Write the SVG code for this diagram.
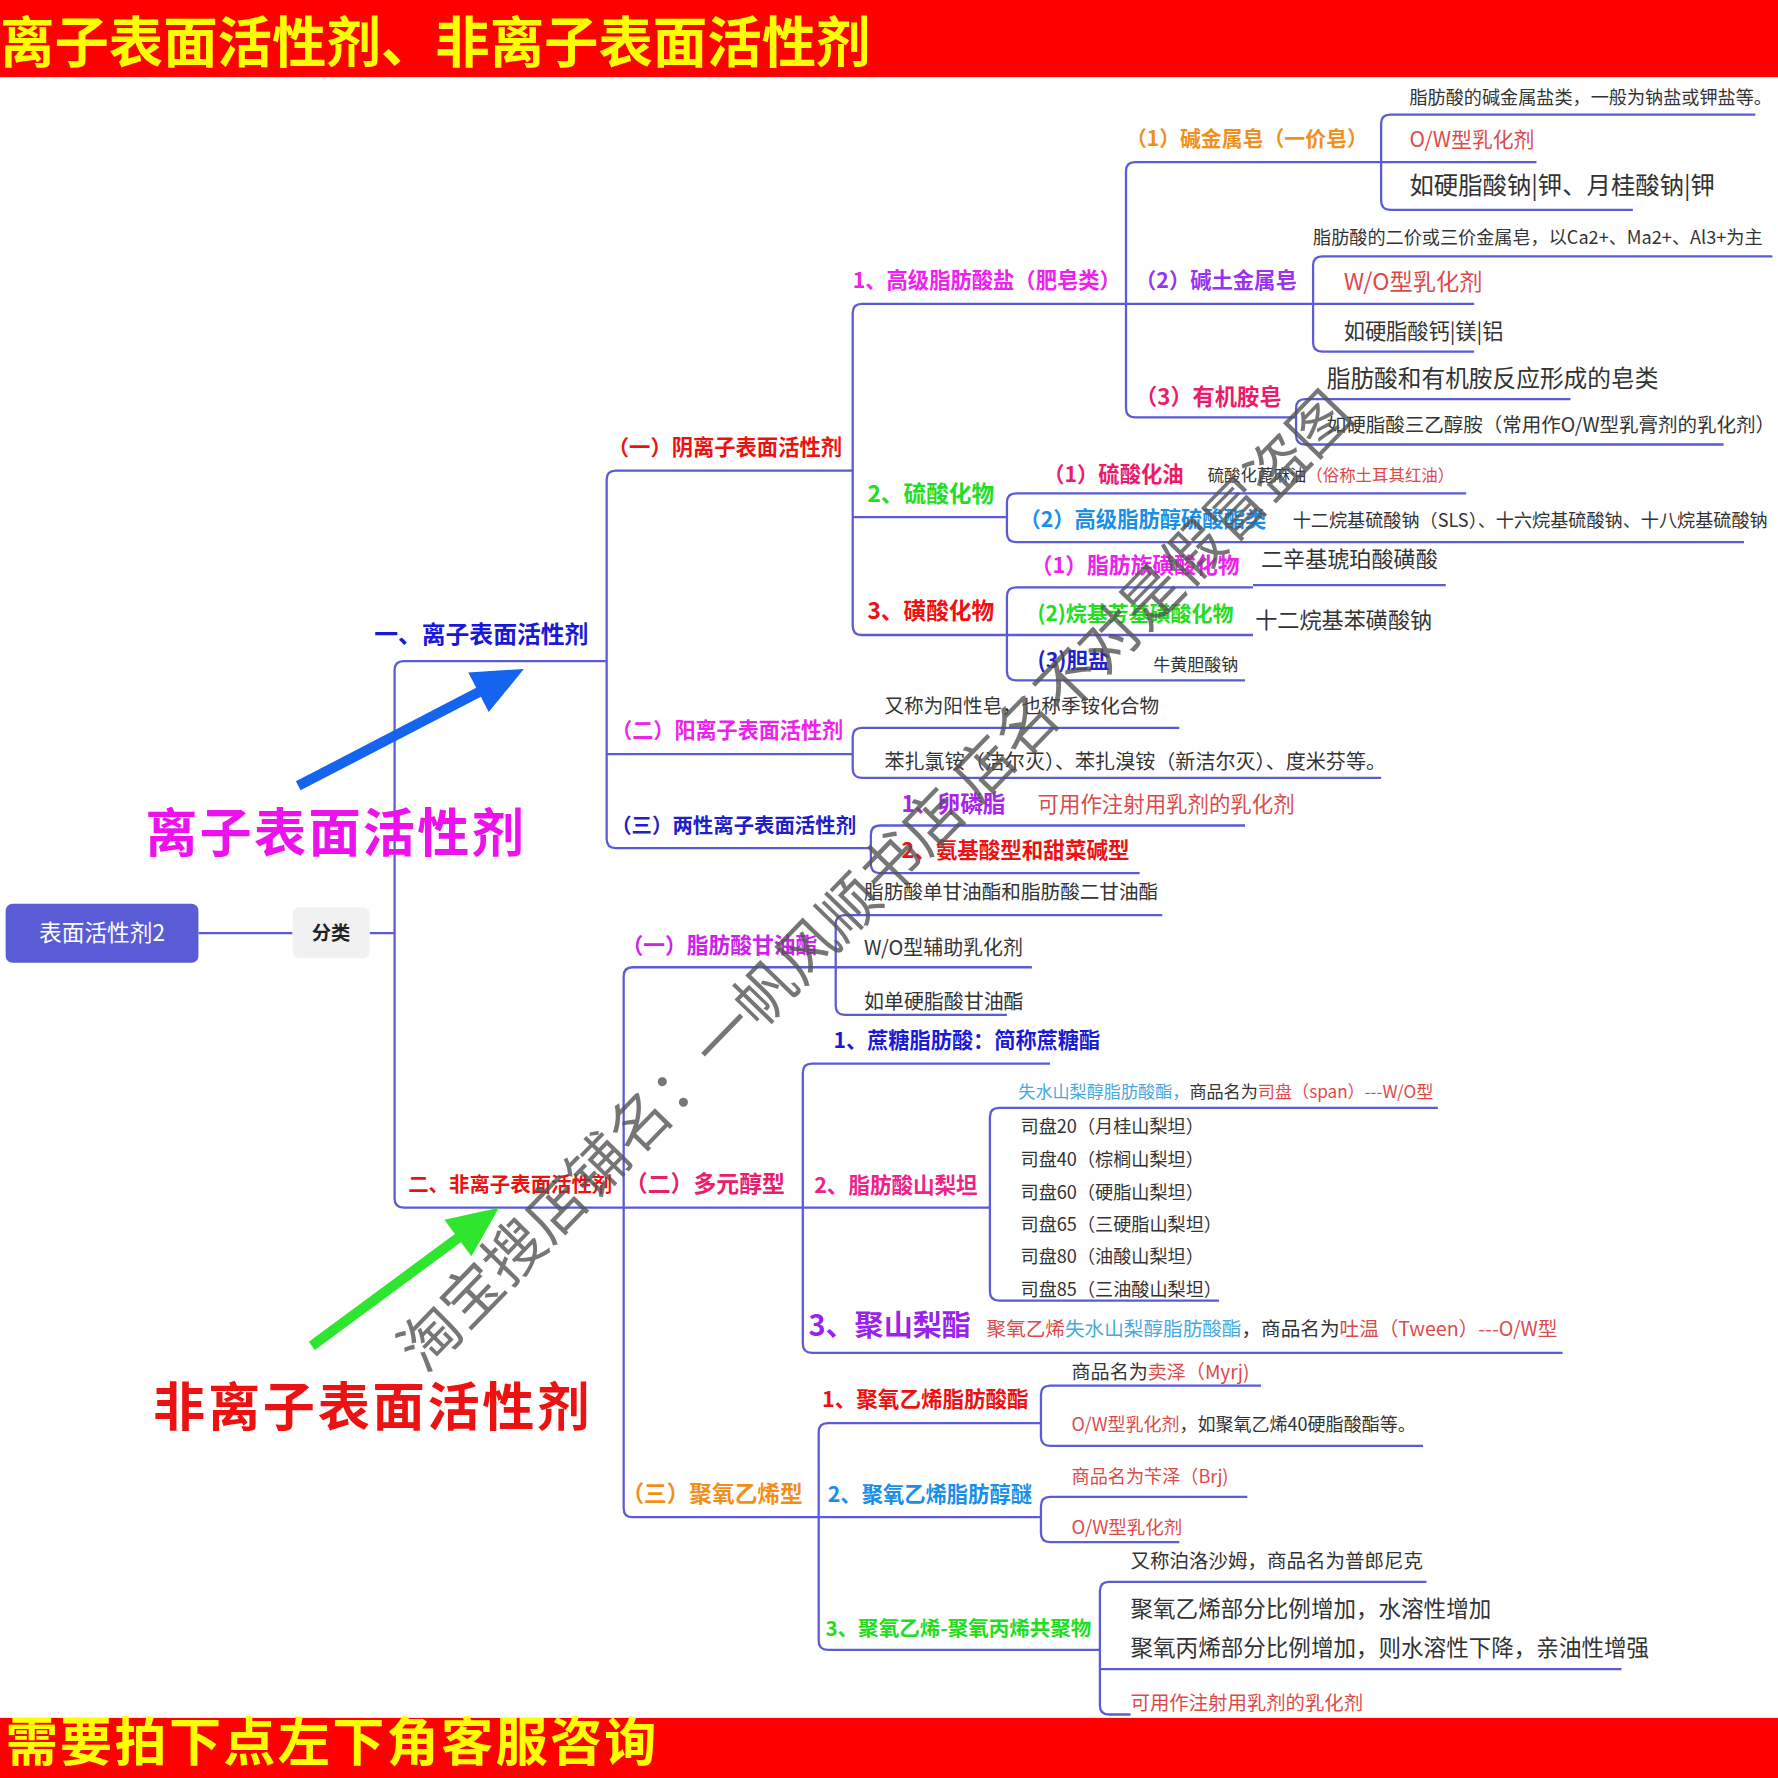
<svg xmlns="http://www.w3.org/2000/svg" width="1778" height="1778" viewBox="0 0 1778 1778">
<style>
.t{font-family:"Noto Sans CJK SC","Noto Sans",sans-serif}
.b{font-weight:700}
.ln{fill:none;stroke:#5b5bd6;stroke-width:2}
.g{fill:#333}
.rs{fill:#dd4a4a}
.lb{fill:#4aa8e0}
</style>
<rect x="0" y="0" width="1778" height="1778" fill="#ffffff"/>
<g transform="scale(1.133929)">
<g id="banner-top">
<rect x="0" y="0" width="1568" height="68" fill="#ff0000"/>
<text class="t b" x="0" y="55" font-size="48" fill="#ffff00">离子表面活性剂、非离子表面活性剂</text>
</g>
<g id="banner-bottom">
<rect x="0" y="1515" width="1568" height="53" fill="#ff0000"/>
<text class="t b" x="5" y="1553" font-size="46" letter-spacing="2" fill="#ffff00">需要拍下点左下角客服咨询</text>
</g>

<g id="connectors" class="ln">
<path d="M175 823H258M326 823H348"/>
<path d="M356 583Q348 583 348 591V1057Q348 1065 356 1065M356 583H535M356 1065H873"/>
<path d="M543 415Q535 415 535 423V740Q535 748 543 748M543 415H752M535 665H752M543 748H768"/>
<path d="M760 268Q752 268 752 276V552Q752 560 760 560M760 268H1300M752 456H888M760 560H1105"/>
<path d="M1001 143Q993 143 993 151V360Q993 368 1001 368M1001 143H1355M1001 368H1143"/>
<path d="M1226 101Q1218 101 1218 109V177Q1218 185 1226 185M1226 101H1548M1226 185H1440"/>
<path d="M1166 226Q1158 226 1158 234V302Q1158 310 1166 310M1166 226H1563M1166 310H1300"/>
<path d="M1151 352Q1143 352 1143 360V384Q1143 392 1151 392M1151 352H1385M1151 392H1520"/>
<path d="M896 435Q888 435 888 443V470Q888 478 896 478M896 435H1293M896 478H1538"/>
<path d="M896 518Q888 518 888 526V592Q888 600 896 600M896 518H1105M1105 516H1275M896 600H1098"/>
<path d="M760 642Q752 642 752 650V678Q752 686 760 686M760 642H1040M760 686H1218"/>
<path d="M776 728Q768 728 768 736V762Q768 770 776 770M776 728H1098M776 770H1005"/>
<path d="M558 853Q550 853 550 861V1330Q550 1338 558 1338M558 853H737M558 1338H918"/>
<path d="M745 807Q737 807 737 815V887Q737 895 745 895M745 807H1025M737 853H910M745 895H888"/>
<path d="M716 938Q708 938 708 946V1185Q708 1193 716 1193M716 938H926M716 1193H1378"/>
<path d="M881 977Q873 977 873 985V1139Q873 1147 881 1147M881 977H1268M881 1147H1075"/>
<path d="M730 1255Q722 1255 722 1263V1447Q722 1455 730 1455M730 1255H918M730 1455H970"/>
<path d="M926 1222Q918 1222 918 1230V1267Q918 1275 926 1275M926 1222H1112M926 1275H1255"/>
<path d="M926 1320Q918 1320 918 1328V1352Q918 1360 926 1360M926 1320H1100M926 1360H1040"/>
<path d="M978 1395Q970 1395 970 1403V1504Q970 1512 978 1512H997M978 1395H1258M970 1472H1430"/>
</g>

<g id="root">
<rect x="5" y="797" width="170" height="52" rx="6" fill="#5a5cd6"/>
<text class="t" x="90" y="830" font-size="20" fill="#ffffff" text-anchor="middle">表面活性剂2</text>
</g>
<g id="fenlei">
<rect x="258" y="800" width="68" height="45" rx="6" fill="#f1f1f1"/>
<text class="t b" x="292" y="829" font-size="17" fill="#222" text-anchor="middle">分类</text>
</g>

<g id="n1"><text class="t b" x="330" y="567" font-size="21" fill="#1818d8">一、离子表面活性剂</text></g>
<g id="n2"><text class="t b" x="360" y="1051" font-size="18" fill="#ee1111">二、非离子表面活性剂</text></g>

<g id="n11"><text class="t b" x="536" y="401" font-size="18.8" fill="#ee1111">（一）阴离子表面活性剂</text></g>
<g id="n12"><text class="t b" x="539" y="651" font-size="18.6" fill="#ee22ee">（二）阳离子表面活性剂</text></g>
<g id="n13"><text class="t b" x="539" y="735" font-size="18" fill="#2020c8">（三）两性离子表面活性剂</text></g>

<g id="n111"><text class="t b" x="752" y="254" font-size="18.8" fill="#ee22ee">1、高级脂肪酸盐（肥皂类）</text></g>
<g id="n112"><text class="t b" x="765" y="443" font-size="20" fill="#22dd22">2、硫酸化物</text></g>
<g id="n113"><text class="t b" x="765" y="546" font-size="20" fill="#ee1111">3、磺酸化物</text></g>

<g id="n1111"><text class="t b" x="993" y="129" font-size="18.4" fill="#f0901c">（1）碱金属皂（一价皂）</text></g>
<g id="n1112"><text class="t b" x="1001" y="254" font-size="18.8" fill="#9933ee">（2）碱土金属皂</text></g>
<g id="n1113"><text class="t b" x="1001" y="357" font-size="19.6" fill="#ee1a6a">（3）有机胺皂</text></g>

<g id="a1"><text class="t g" x="1243" y="92" font-size="16">脂肪酸的碱金属盐类，一般为钠盐或钾盐等。</text></g>
<g id="a2"><text class="t rs" x="1243" y="130" font-size="18.4">O/W型乳化剂</text></g>
<g id="a3"><text class="t g" x="1243" y="171" font-size="21.5">如硬脂酸钠|钾、月桂酸钠|钾</text></g>
<g id="b1"><text class="t g" x="1158" y="215" font-size="16">脂肪酸的二价或三价金属皂，以Ca2+、Ma2+、Al3+为主</text></g>
<g id="b2"><text class="t rs" x="1185" y="256" font-size="20.5">W/O型乳化剂</text></g>
<g id="b3"><text class="t g" x="1185" y="299" font-size="18.7">如硬脂酸钙|镁|铝</text></g>
<g id="c1"><text class="t g" x="1170" y="341" font-size="20.9">脂肪酸和有机胺反应形成的皂类</text></g>
<g id="c2"><text class="t g" x="1170" y="381" font-size="17.2">如硬脂酸三乙醇胺（常用作O/W型乳膏剂的乳化剂）</text></g>

<g id="d1">
<text class="t b" x="920" y="425" font-size="18.8" fill="#ee1a6a">（1）硫酸化油</text>
<text class="t g" x="1065" y="424" font-size="14.5">硫酸化蓖麻油<tspan class="rs">（俗称土耳其红油）</tspan></text>
</g>
<g id="d2">
<text class="t b" x="899" y="465" font-size="18.8" fill="#1a8fe8">（2）高级脂肪醇硫酸酯类</text>
<text class="t g" x="1140" y="465" font-size="16">十二烷基硫酸钠（SLS）、十六烷基硫酸钠、十八烷基硫酸钠</text>
</g>
<g id="e1">
<text class="t b" x="909" y="505" font-size="19.2" fill="#ee22ee">（1）脂肪族磺酸化物</text>
<text class="t g" x="1112" y="500" font-size="19.5">二辛基琥珀酸磺酸</text>
</g>
<g id="e2">
<text class="t b" x="915" y="548" font-size="18.5" fill="#22dd22">(2)烷基芳基磺酸化物</text>
<text class="t g" x="1107" y="554" font-size="19.5">十二烷基苯磺酸钠</text>
</g>
<g id="e3">
<text class="t b" x="915" y="589" font-size="19" fill="#2020c8">(3)胆盐</text>
<text class="t g" x="1017" y="592" font-size="15">牛黄胆酸钠</text>
</g>

<g id="f1"><text class="t g" x="780" y="629" font-size="17.3">又称为阳性皂，也称季铵化合物</text></g>
<g id="f2"><text class="t g" x="780" y="678" font-size="17.7">苯扎氯铵（洁尔灭）、苯扎溴铵（新洁尔灭）、度米芬等。</text></g>
<g id="g1">
<text class="t b" x="795" y="716" font-size="20" fill="#aa22ee">1、卵磷脂</text>
<text class="t rs" x="915" y="716" font-size="18.9">可用作注射用乳剂的乳化剂</text>
</g>
<g id="g2"><text class="t b" x="795" y="757" font-size="19" fill="#ee1111">2、氨基酸型和甜菜碱型</text></g>

<g id="n21"><text class="t b" x="548" y="840" font-size="19.2" fill="#cc22ee">（一）脂肪酸甘油酯</text></g>
<g id="n22"><text class="t b" x="551" y="1051" font-size="20.2" fill="#e8206a">（二）多元醇型</text></g>
<g id="n23"><text class="t b" x="548" y="1325" font-size="20" fill="#f0901c">（三）聚氧乙烯型</text></g>

<g id="h1"><text class="t g" x="762" y="793" font-size="17.3">脂肪酸单甘油酯和脂肪酸二甘油酯</text></g>
<g id="h2"><text class="t g" x="762" y="842" font-size="17.6">W/O型辅助乳化剂</text></g>
<g id="h3"><text class="t g" x="762" y="890" font-size="17.6">如单硬脂酸甘油酯</text></g>

<g id="i1"><text class="t b" x="735" y="924" font-size="18.7" fill="#1a1ad6">1、蔗糖脂肪酸：简称蔗糖酯</text></g>
<g id="i2"><text class="t b" x="718" y="1052" font-size="19" fill="#ee2288">2、脂肪酸山梨坦</text></g>
<g id="i3">
<text class="t b" x="713" y="1178" font-size="25.6" fill="#9922ee">3、聚山梨酯</text>
<text class="t" x="870" y="1178" font-size="17.3"><tspan class="rs">聚氧乙烯</tspan><tspan class="lb">失水山梨醇脂肪酸酯</tspan><tspan class="g">，商品名为</tspan><tspan class="rs">吐温（Tween）---O/W型</tspan></text>
</g>
<g id="j1"><text class="t" x="898" y="968" font-size="15.1"><tspan class="lb">失水山梨醇脂肪酸酯，</tspan><tspan class="g">商品名为</tspan><tspan class="rs">司盘（span）---W/O型</tspan></text></g>
<g id="j2">
<text class="t g" x="900" font-size="16">
<tspan x="900" y="999">司盘20（月桂山梨坦）</tspan>
<tspan x="900" y="1028">司盘40（棕榈山梨坦）</tspan>
<tspan x="900" y="1057">司盘60（硬脂山梨坦）</tspan>
<tspan x="900" y="1086">司盘65（三硬脂山梨坦）</tspan>
<tspan x="900" y="1114">司盘80（油酸山梨坦）</tspan>
<tspan x="900" y="1143">司盘85（三油酸山梨坦）</tspan>
</text>
</g>

<g id="k1"><text class="t b" x="725" y="1241" font-size="19" fill="#ee1111">1、聚氧乙烯脂肪酸酯</text></g>
<g id="k2"><text class="t b" x="730" y="1325" font-size="18.8" fill="#1a8fe8">2、聚氧乙烯脂肪醇醚</text></g>
<g id="k3"><text class="t b" x="728" y="1443" font-size="18.1" fill="#22dd22">3、聚氧乙烯-聚氧丙烯共聚物</text></g>
<g id="l1"><text class="t" x="945" y="1216" font-size="16.8"><tspan class="g">商品名为</tspan><tspan class="rs">卖泽（Myrj)</tspan></text></g>
<g id="l2"><text class="t" x="945" y="1262" font-size="15.9"><tspan class="rs">O/W型乳化剂</tspan><tspan class="g">，如聚氧乙烯40硬脂酸酯等。</tspan></text></g>
<g id="m1"><text class="t rs" x="945" y="1308" font-size="16">商品名为苄泽（Brj)</text></g>
<g id="m2"><text class="t rs" x="945" y="1353" font-size="16.3">O/W型乳化剂</text></g>
<g id="o1"><text class="t g" x="997" y="1383" font-size="17.2">又称泊洛沙姆，商品名为普郎尼克</text></g>
<g id="o2">
<text class="t g" font-size="19.9"><tspan x="997" y="1426">聚氧乙烯部分比例增加，水溶性增加</tspan><tspan x="997" y="1460">聚氧丙烯部分比例增加，则水溶性下降，亲油性增强</tspan></text>
</g>
<g id="o3"><text class="t rs" x="997" y="1508" font-size="17.1">可用作注射用乳剂的乳化剂</text></g>

<g id="annot-ionic">
<line x1="263" y1="693" x2="425" y2="609" stroke="#1464f0" stroke-width="9"/>
<polygon points="462,590 431,628 413,593" fill="#1464f0"/>
<text class="t b" x="128" y="751" font-size="46" letter-spacing="2" fill="#ee11ee">离子表面活性剂</text>
</g>
<g id="annot-nonionic">
<line x1="275" y1="1187" x2="405" y2="1091" stroke="#2ee62e" stroke-width="9"/>
<polygon points="440,1065 415.7,1107.9 391.9,1075.7" fill="#2ee62e"/>
<text class="t b" x="135" y="1258" font-size="46" letter-spacing="2.4" fill="#ee1111">非离子表面活性剂</text>
</g>

<g id="watermark">
<text class="t" x="785" y="790" font-size="53" fill="#555555" opacity="0.8" text-anchor="middle" transform="rotate(-45.8 785 790)">淘宝搜店铺名：一帆风顺书店 店名不对是假冒盗图</text>
</g>
</g>
</svg>
